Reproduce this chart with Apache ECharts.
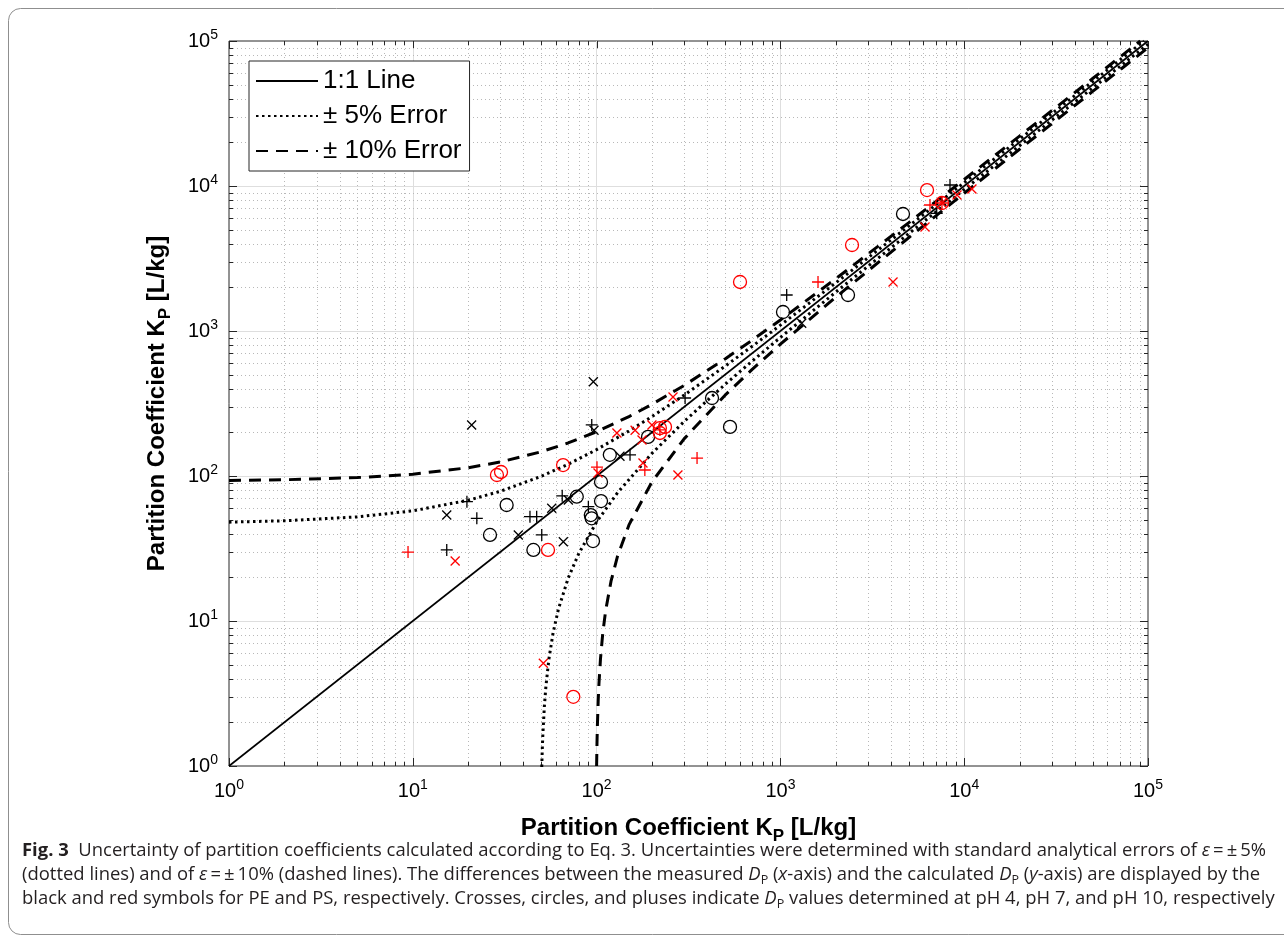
<!DOCTYPE html>
<html><head><meta charset="utf-8">
<script src="https://cdn.jsdelivr.net/npm/echarts@6/dist/echarts.min.js"></script>
<style>html,body{margin:0;padding:0;background:#fff}#c{width:1284px;height:947px}</style>
</head><body><div id="c"></div>
<script>
// ---------- data ----------
const majorTicks = [1, 10, 100, 1000, 10000, 100000];
const tickExponents = ['0', '1', '2', '3', '4', '5'];

const line11 = [[1, 1], [100000, 100000]];

const up10X = [1, 2, 5, 10, 20, 30, 50, 70, 100, 150, 200, 300, 500, 700, 1000, 2000, 5000, 10000, 20000, 50000, 90800];
const up10Y = [93.1, 94.2, 97.5, 103, 114, 125, 147, 169, 202, 257, 312, 422, 642, 862, 1192, 2292, 5592, 11092, 22092, 55092, 99972];
const lo10X = [100, 100.5, 101, 102, 103, 105, 108, 112, 120, 130, 150, 200, 300, 500, 700, 1000, 2000, 5000, 10000, 20000, 50000, 100000];
const lo10Y = [1, 1.45, 1.9, 2.8, 3.7, 5.5, 8.2, 11.8, 19, 28, 46, 91, 181, 361, 541, 811, 1711, 4411, 8911, 17911, 44911, 89911];
const up5X = [1, 2, 5, 10, 20, 30, 50, 70, 100, 150, 200, 300, 500, 700, 1000, 2000, 5000, 10000, 20000, 50000, 95150];
const up5Y = [48.05, 49.1, 52.25, 57.5, 68, 78.5, 99.5, 120.5, 152, 204.5, 257, 362, 572, 782, 1097, 2147, 5297, 10547, 21047, 52547, 99954];
const lo5X = [50.3, 50.6, 51, 52, 53, 55, 58, 62, 70, 80, 100, 130, 200, 300, 500, 700, 1000, 2000, 5000, 10000, 20000, 50000, 100000];
const lo5Y = [0.985, 1.27, 1.65, 2.6, 3.55, 5.45, 8.3, 12.1, 19.7, 29.2, 48.2, 76.7, 143.2, 238.2, 428.2, 618.2, 903.2, 1853.2, 4703.2, 9453.2, 18953, 47453, 94953];

// PE = black, PS = red ; pH 4 = crosses, pH 7 = circles, pH 10 = pluses
const pePH4 = [[20.9, 225], [96, 447], [15.3, 53.8], [37.5, 39.2], [65.9, 35.2], [57, 59.9], [70.2, 68.3], [134, 137], [96.8, 207], [1306, 1130]];
const pePH7 = [[26.3, 39.2], [32.4, 63.1], [45.3, 30.9], [78, 72], [93, 53.8], [94, 51.1], [95.6, 35.6], [105.7, 67.2], [105.7, 91], [118, 140], [190.5, 186], [424.6, 345], [532, 218], [1033, 1352], [2333, 1771], [4645, 6412]];
const pePH10 = [[15.3, 30.9], [19.7, 66.5], [22.3, 51.1], [43.4, 52.4], [47.2, 52.4], [50.3, 39.2], [65, 73], [90.2, 61.4], [94.1, 225], [152, 140], [303, 345], [1082, 1771], [7085, 6480], [8370, 10160]];
const psPH4 = [[17.0, 25.9], [51.3, 5.11], [101.8, 105], [129, 198], [162, 207], [200, 225], [176.6, 177], [178.8, 123], [260.5, 351], [277, 101.6], [4100, 2178], [6120, 5213], [7570, 7633], [9140, 8670], [11020, 9530]];
const psPH7 = [[28.7, 101.6], [30.2, 106.6], [54.4, 30.9], [65.7, 119], [74.7, 3.0], [221, 214], [235.6, 218], [221, 198], [603, 2178], [2453, 3918], [6278, 9380], [7570, 7633]];
const psPH10 = [[9.42, 29.9], [100.5, 115], [183, 110], [352, 133], [221, 208], [1602, 2178], [6515, 7396], [7570, 7633]];

// ---------- helpers ----------
const zip = (xs, ys) => xs.map((x, i) => [x, ys[i]]);
const FONT = '"Liberation Sans", Arial, sans-serif';
const BLACK = '#000000', RED = '#ff0000', AX = '#262626';

const xTickData = [], yTickData = [];
majorTicks.forEach((v, k) => {
  xTickData.push([v, 1, 1]); yTickData.push([1, v, 1]);
  if (k < majorTicks.length - 1) for (let m = 2; m <= 9; m++) { xTickData.push([m * v, 1, 0]); yTickData.push([1, m * v, 0]); }
});

function tickLabel(v) {
  const i = majorTicks.findIndex(t => Math.abs(Math.log10(t) - Math.log10(v)) < 1e-6);
  return i < 0 ? '' : '{b|10}{s|' + tickExponents[i] + '}';
}
const labelRich = {
  b: { fontSize: 20, fontFamily: FONT, color: '#000', lineHeight: 26 },
  s: { fontSize: 14, fontFamily: FONT, color: '#000', lineHeight: 14, verticalAlign: 'top' }
};
const nameRich = {
  n: { fontSize: 24, fontWeight: 'bold', fontFamily: FONT, color: '#000', lineHeight: 34 },
  p: { fontSize: 17, fontWeight: 'bold', fontFamily: FONT, color: '#000', lineHeight: 16, verticalAlign: 'bottom' }
};

function crisp(v) { return Math.round(v) + 0.5; }
function xTickItem(params, api) {
  const cs = params.coordSys;
  const px = crisp(api.coord([api.value(0), 1])[0]);
  const major = api.value(2) === 1;
  const top = cs.y, bot = cs.y + cs.height, len = major ? 8 : 4;
  const ch = [];
  if (!major) ch.push({ type: 'line', shape: { x1: px, y1: top, x2: px, y2: bot }, style: { stroke: '#b8b8b8', lineWidth: 1, lineDash: [1, 3] } });
  ch.push({ type: 'line', shape: { x1: px, y1: bot, x2: px, y2: bot - len }, style: { stroke: AX, lineWidth: 1 } });
  ch.push({ type: 'line', shape: { x1: px, y1: top, x2: px, y2: top + len }, style: { stroke: AX, lineWidth: 1 } });
  return { type: 'group', children: ch };
}
function yTickItem(params, api) {
  const cs = params.coordSys;
  const py = crisp(api.coord([1, api.value(1)])[1]);
  const major = api.value(2) === 1;
  const l = cs.x, r = cs.x + cs.width, len = major ? 8 : 4;
  const ch = [];
  if (!major) ch.push({ type: 'line', shape: { x1: l, y1: py, x2: r, y2: py }, style: { stroke: '#b8b8b8', lineWidth: 1, lineDash: [1, 3] } });
  ch.push({ type: 'line', shape: { x1: l, y1: py, x2: l + len, y2: py }, style: { stroke: AX, lineWidth: 1 } });
  ch.push({ type: 'line', shape: { x1: r, y1: py, x2: r - len, y2: py }, style: { stroke: AX, lineWidth: 1 } });
  return { type: 'group', children: ch };
}

const CROSS = 'path://M0,0L10,10M10,0L0,10';
const PLUS = 'path://M5,0L5,10M0,5L10,5';
function scat(name, data, symbol, size, color) {
  return {
    name, type: 'scatter', data, symbol, symbolSize: size, z: 6, silent: true,
    itemStyle: { color: 'transparent', borderColor: color, borderWidth: 1.3, opacity: 1 }
  };
}
function errLine(name, data, width, dash) {
  return { name, type: 'line', data, showSymbol: false, symbol: 'none', z: 3, silent: true,
    itemStyle: { color: BLACK, opacity: 0 },
    lineStyle: { color: BLACK, width, type: dash, cap: 'butt' } };
}

const axisCommon = {
  type: 'log', logBase: 10, min: 1, max: 100000, splitNumber: 5,
  axisLine: { show: false }, axisTick: { show: false },
  minorTick: { show: false }, minorSplitLine: { show: false },
  splitLine: { show: true, showMinLine: false, showMaxLine: false, lineStyle: { color: '#dedede', width: 1 } }
};

function captionStyle(text) {
  const f = '"Open Sans", "Noto Sans", sans-serif';
  const fs = 18.45;
  return {
    text, fontFamily: f, fontSize: fs, fill: '#231f20', lineHeight: 24, verticalAlign: 'middle', align: 'left',
    rich: {
      b: { fontFamily: f, fontSize: fs, fontWeight: 'bold', lineHeight: 24, color: '#231f20' },
      l: { fontFamily: f, fontSize: fs, lineHeight: 24, color: '#1f4fd8' },
      i: { fontFamily: f, fontSize: fs, fontStyle: 'italic', lineHeight: 24, color: '#231f20' },
      s: { fontFamily: f, fontSize: 12.5, lineHeight: 15, verticalAlign: 'bottom', color: '#231f20' }
    }
  };
}

const chart = echarts.init(document.getElementById('c'), null, { renderer: 'canvas' });
chart.setOption({
  animation: false,
  backgroundColor: '#ffffff',
  grid: { left: 229, top: 41, width: 919, height: 725, show: true, borderColor: AX, borderWidth: 1, backgroundColor: 'transparent', containLabel: false, outerBoundsMode: 'none' },
  xAxis: Object.assign({}, axisCommon, {
    axisLabel: { margin: 12, formatter: tickLabel, rich: labelRich, showMinLabel: true, showMaxLabel: true },
    name: '{n|Partition Coefficient K}{p|P}{n| [L/kg]}', nameLocation: 'middle', nameGap: 45,
    nameTextStyle: { rich: nameRich }
  }),
  yAxis: Object.assign({}, axisCommon, {
    axisLabel: { margin: 11, formatter: tickLabel, rich: labelRich, showMinLabel: true, showMaxLabel: true },
    name: '{n|Partition Coefficient K}{p|P}{n| [L/kg]}', nameLocation: 'middle', nameGap: 55,
    nameTextStyle: { rich: nameRich }
  }),
  legend: {
    data: ['1:1 Line', '± 5% Error', '± 10% Error'],
    orient: 'vertical', left: 249, top: 61, itemWidth: 62, itemHeight: 20, itemGap: 9,
    padding: [7, 8, 7, 6], backgroundColor: '#ffffff', borderColor: AX, borderWidth: 1, borderRadius: 0,
    itemStyle: { color: 'rgba(0,0,0,0)', borderColor: 'rgba(0,0,0,0)', borderWidth: 0, opacity: 0 },
    textStyle: { fontSize: 26, fontFamily: FONT, color: '#000', lineHeight: 26 },
    selectedMode: false
  },
  series: [
    { type: 'custom', coordinateSystem: 'cartesian2d', data: xTickData, renderItem: xTickItem, encode: { x: 0, y: 1 }, z: 1, silent: true, clip: false },
    { type: 'custom', coordinateSystem: 'cartesian2d', data: yTickData, renderItem: yTickItem, encode: { x: 0, y: 1 }, z: 1, silent: true, clip: false },
    errLine('1:1 Line', line11, 1.6, 'solid'),
    errLine('± 5% Error', zip(up5X, up5Y), 3, [2.5, 3.5]),
    errLine('± 5% Error', zip(lo5X, lo5Y), 3, [2.5, 3.5]),
    errLine('± 10% Error', zip(up10X, up10Y), 3, [12, 8]),
    errLine('± 10% Error', zip(lo10X, lo10Y), 3, [12, 8]),
    scat('PE pH 4', pePH4, CROSS, 9, BLACK),
    scat('PE pH 7', pePH7, 'circle', 13, BLACK),
    scat('PE pH 10', pePH10, PLUS, 12, BLACK),
    scat('PS pH 4', psPH4, CROSS, 9, RED),
    scat('PS pH 7', psPH7, 'circle', 13, RED),
    scat('PS pH 10', psPH10, PLUS, 12, RED)
  ],
  graphic: [
    { type: 'rect', silent: true, shape: { x: 8.5, y: 8.5, width: 1300, height: 926, r: 12 }, style: { fill: 'none', stroke: '#8f8f8f', lineWidth: 1 } },
    { type: 'text', silent: true, x: 22, y: 851, style: captionStyle('{b|Fig. 3}  Uncertainty of partition coefficients calculated according to Eq. {l|3}. Uncertainties were determined with standard analytical errors of {i|ε}\u2009=\u2009±\u20095%') },
    { type: 'text', silent: true, x: 22, y: 875, style: captionStyle('(dotted lines) and of {i|ε}\u2009=\u2009±\u200910% (dashed lines). The differences between the measured {i|D}{s|P} ({i|x}-axis) and the calculated {i|D}{s|P} ({i|y}-axis) are displayed by the') },
    { type: 'text', silent: true, x: 22, y: 899, style: captionStyle('black and red symbols for PE and PS, respectively. Crosses, circles, and pluses indicate {i|D}{s|P} values determined at pH 4, pH 7, and pH 10, respectively') }
  ]
});
</script></body></html>
